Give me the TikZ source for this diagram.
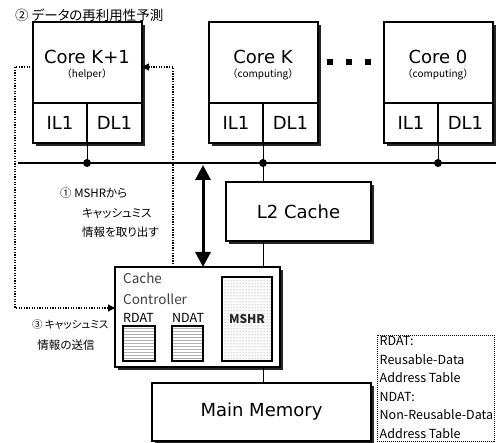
\documentclass[tikz,border=0pt]{standalone}
\usepackage{fontspec}
\setmainfont{Noto Sans CJK JP}[RawFeature=+palt]
\newfontfamily\jpfull{Noto Sans CJK JP}
\newfontfamily\lat{DejaVu Sans}
\usetikzlibrary{shadows,patterns,arrows.meta}
\newcommand\fs[1]{\fontsize{#1}{#1}\selectfont}
\newcommand\mycore[5]{%
  \node[box, minimum width=109pt, minimum height=121pt, anchor=north west] (#1) at (#2,22) {};
  \node[inner, minimum width=109pt, minimum height=81pt, anchor=north west] (#1t) at (#2,22) {};
  \node[inner, minimum width=54pt, minimum height=40pt, anchor=north west, font=\lat\fs{18}] (#1i) at (#1t.south west) {IL1};
  \node[inner, minimum width=55pt, minimum height=40pt, anchor=north west, font=\lat\fs{18}] (#1d) at (#1i.north east) {DL1};
  \node[font=\lat\fs{18}, inner sep=0pt, align=center, anchor=north] (#1n) at ([yshift=-28pt]#1t.north -| #1d.north west) {#3\\[-4.5pt]{\jpfull\fs{10}#4}};
}
\begin{document}
\begin{tikzpicture}[x=1pt,y=-1pt,
  box/.style={draw, line width=1.4pt, fill=white, outer sep=0pt,
    drop shadow={shadow xshift=3pt, shadow yshift=-3pt, fill=black, opacity=0.85}},
  inner/.style={draw, line width=1.4pt, outer sep=0pt, inner sep=0pt},
  dot/.style={circle, fill=black, inner sep=0pt, minimum size=8pt},
  conn/.style={line width=1pt},
  dotarrow/.style={line width=1.3pt, dash pattern=on 1.3pt off 1.3pt, -{Triangle[width=7pt,length=7pt]}},
  dbl/.style={line width=3pt, {Triangle[width=15pt,length=15pt]}-{Triangle[width=15pt,length=15pt]}},
  jp/.style={font=\fs{11.5}, inner sep=0pt, align=left},
  tbl/.style={draw, line width=1.2pt, outer sep=0pt, pattern=horizontal lines, pattern color=black!30},
]
\useasboundingbox (0,0) rectangle (496,443);

% cores
\mycore{ck1}{33}{Core K+1}{（helper）}{}
\mycore{ck}{209}{Core K}{（computing）}{}
\mycore{czero}{384}{Core 0}{（computing）}{}

% dots between cores
\foreach \xx [count=\i] in {330,349,368}
  \node[fill=black, minimum size=6pt, inner sep=0pt] (ell\i) at (\xx,62) {};

% bus
\coordinate (busL) at (18,163);
\coordinate (busR) at (496,163);
\draw[line width=2pt] (busL) -- (busR);
\node[dot] (j1) at (ck1d.south west |- busL) {};
\node[dot] (j2) at (ckd.south west |- busL) {};
\node[dot] (j3) at (czerod.south west |- busL) {};
\draw[conn] (ck1d.south west) -- (j1.center);
\draw[conn] (ckd.south west) -- (j2.center);
\draw[conn] (czerod.south west) -- (j3.center);

% L2
\node[box, minimum width=145pt, minimum height=59pt, font=\lat\fs{18}] (l2) at (298.5,211.5) {L2 Cache};

% cache controller
\node[box, minimum width=165pt, minimum height=100pt] (cc) at (197.5,317) {};
\node[font=\fs{13.5}, text=black!75, inner sep=0pt, anchor=west] (cct1) at (123,278) {Cache};
\node[font=\fs{13.5}, text=black!75, inner sep=0pt, anchor=west] (cct2) at (123,299) {Controller};
\node[font=\fs{12.5}, inner sep=0pt, anchor=west] (rdatl) at (123,318) {RDAT};
\node[font=\fs{12.5}, inner sep=0pt, anchor=west] (ndatl) at (172,318) {NDAT};
\node[tbl, minimum width=32pt, minimum height=35pt] (rdat) at (139,343.5) {};
\node[tbl, minimum width=31pt, minimum height=35pt] (ndat) at (187.5,343.5) {};
\node[draw, line width=1.2pt, minimum width=50pt, minimum height=84pt, outer sep=0pt,
  pattern=dots, pattern color=black!55] (mshr) at (247,319) {};
\node[font=\bfseries\fs{12}, inner sep=1pt, text=black!85] (mshrt) at (mshr.center) {MSHR};

% main memory
\node[box, minimum width=219pt, minimum height=58pt, font=\lat\fs{18}] (mm) at (261.5,412) {Main Memory};

% connectors
\draw[conn] (j2.center) -- (j2 |- l2.north);
\draw[conn] (l2.south -| j2) -- (cc.north -| j2);
\draw[conn] (cc.south -| j2) -- (mm.north -| j2);
\coordinate (dblTop) at (203,165);
\draw[dbl] (dblTop) -- (dblTop |- cc.north);

% dotted arrows
\coordinate (lc1) at (15,67);
\coordinate (lc2) at (15,308);
\draw[dotarrow] (ck1.west |- lc1) -- (lc1) -- (lc2) -- (cc.west |- lc2);
\coordinate (rc1) at (173,67);
\draw[dotarrow] (rc1 |- cc.north) -- (rc1) -- (ck1.east |- rc1);

% japanese labels
\node[font=\fs{13.5}, inner sep=0pt, anchor=west] (lab2) at (15,15) {② データの再利用性予測};
\node[jp, anchor=west] (lab1a) at (60,193) {① MSHRから};
\node[jp, anchor=west] (lab1b) at (82,213) {キャッシュミス};
\node[jp, anchor=west] (lab1c) at (82,232) {情報を取り出す};
\node[jp, font=\fs{10.5}, anchor=west] (lab3a) at (32,325) {③ キャッシュミス};
\node[jp, anchor=center] (lab3b) at (66,345) {情報の送信};

% legend
\node[draw, line width=1pt, dash pattern=on 1pt off 1pt, minimum width=117pt, minimum height=106pt, anchor=north west, outer sep=0pt] (leg) at (377,335.5) {};
\node[font={\fontsize{12.5}{18.5}\selectfont}, inner sep=0pt, anchor=north west, align=left] (legt) at (379.5,336.5)
  {RDAT:\\Reusable-Data\\Address Table\\NDAT:\\Non-Reusable-Data\\Address Table};
\end{tikzpicture}
\end{document}
